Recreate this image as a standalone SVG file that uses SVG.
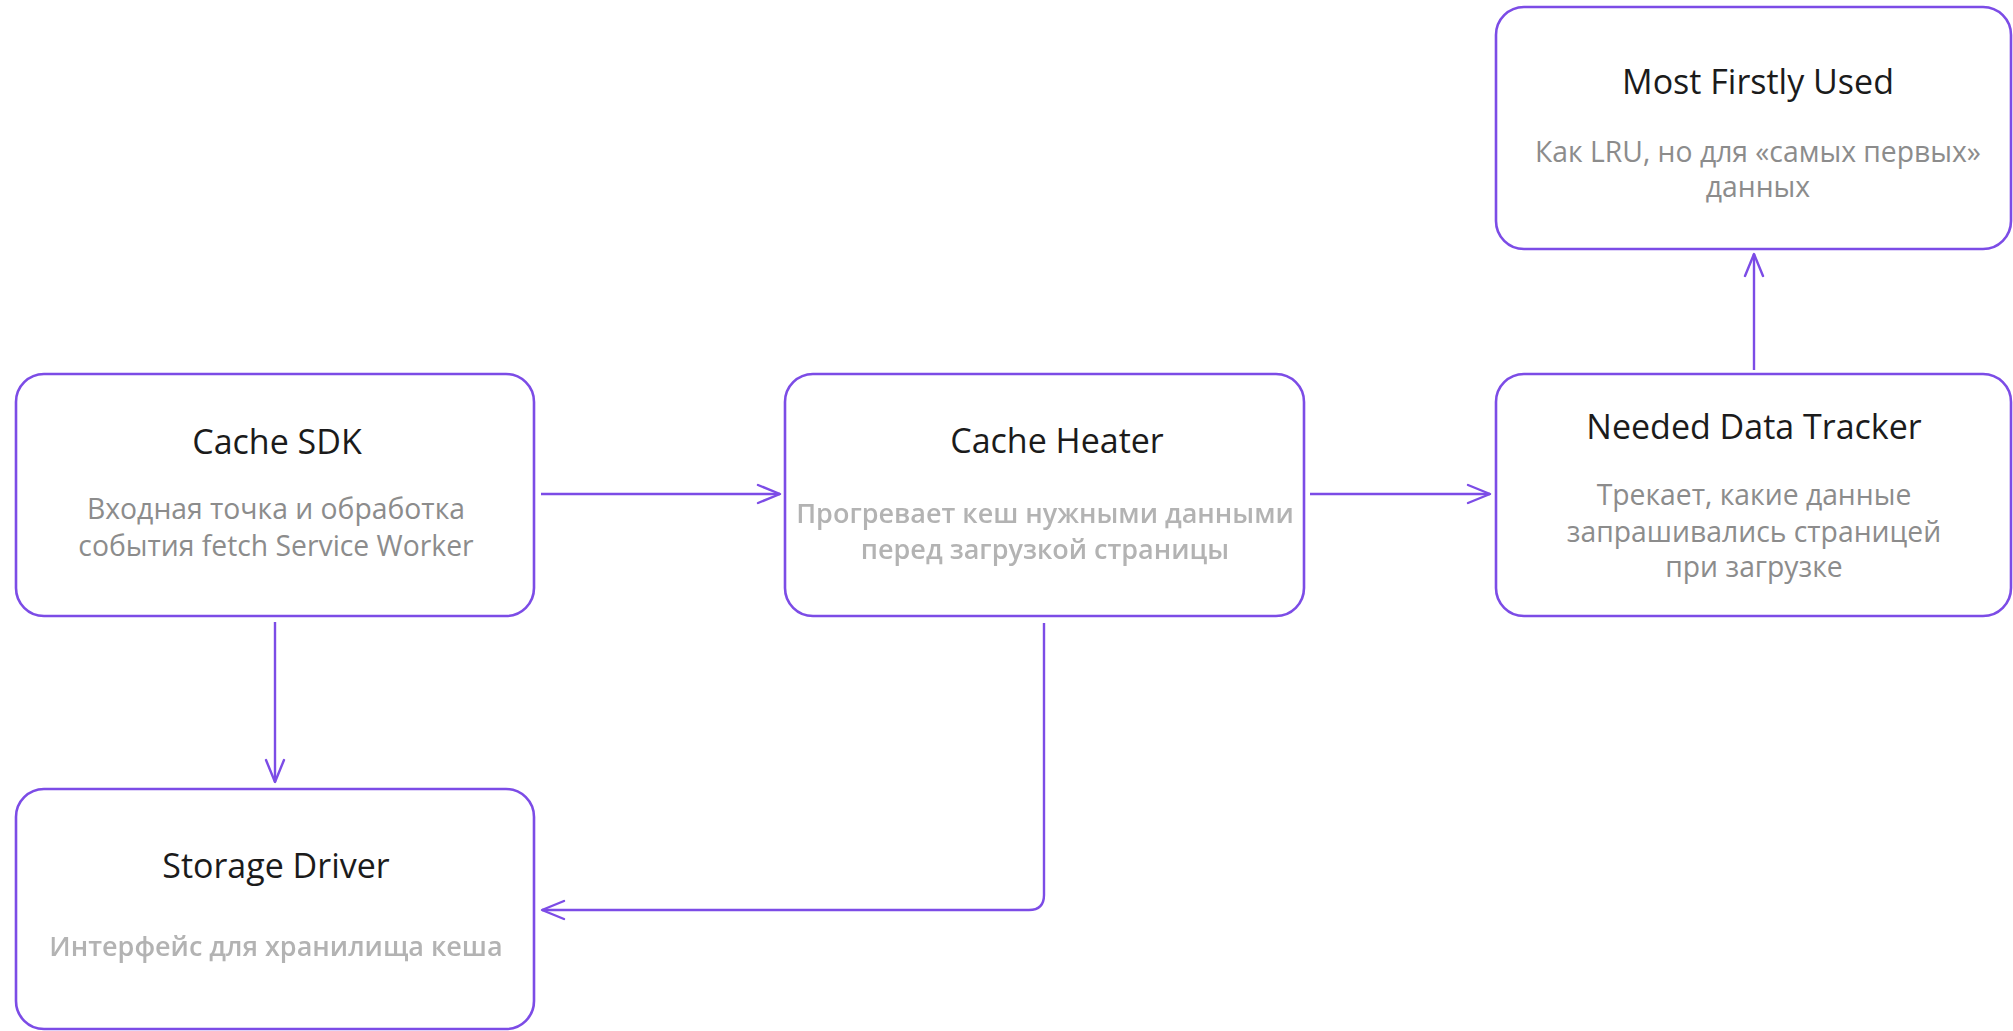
<svg xmlns="http://www.w3.org/2000/svg" width="2013" height="1031" viewBox="0 0 2013 1031">
  <style>
    .box { fill: #ffffff; stroke: #7c4ce6; stroke-width: 2.6; }
    .title { font-family: "Open Sans", "Noto Sans", sans-serif; font-size: 34px; fill: #1b1b1b; text-anchor: middle; }
    .desc { font-family: "Open Sans", "Noto Sans", sans-serif; font-size: 28.3px; fill: #8c8c8c; text-anchor: middle; }
    .desc-soft { font-family: "Open Sans", "Noto Sans", sans-serif; font-size: 27px; font-weight: 600; fill: #b3b3b3; text-anchor: middle; filter: url(#soft); }
    .edge { fill: none; stroke: #7c4ce6; stroke-width: 2.4; marker-end: url(#chevron); }
  </style>
  <defs>
    <marker id="chevron" markerUnits="userSpaceOnUse" viewBox="-26 -12 30 24" refX="0" refY="0" markerWidth="30" markerHeight="24" orient="auto">
      <path d="M -22 -9 L 0 0 L -22 9" fill="none" stroke="#7c4ce6" stroke-width="2.4" stroke-linecap="round" stroke-linejoin="round"/>
    </marker>
    <filter id="soft" x="-5%" y="-20%" width="110%" height="140%">
      <feGaussianBlur stdDeviation="0.7"/>
    </filter>
  </defs>

  <rect width="2013" height="1031" fill="#ffffff"/>

  <!-- connectors -->
  <g id="connectors">
    <path class="edge" d="M 541 494 L 780 494"/>
    <path class="edge" d="M 1310 494 L 1490 494"/>
    <path class="edge" d="M 1754 370 L 1754 254"/>
    <path class="edge" d="M 275 622 L 275 782"/>
    <path class="edge" d="M 1044 623 L 1044 895 Q 1044 910 1029 910 L 542 910"/>
  </g>

  <g id="cache-sdk">
    <rect class="box" x="16" y="374" width="518" height="242" rx="28"/>
    <text class="title" x="277" y="454">Cache SDK</text>
    <text class="desc" x="276" y="519">Входная точка и обработка</text>
    <text class="desc" x="276" y="556">события fetch Service Worker</text>
  </g>

  <g id="cache-heater">
    <rect class="box" x="785" y="374" width="519" height="242" rx="28"/>
    <text class="title" x="1057" y="453">Cache Heater</text>
    <text class="desc-soft" x="1045" y="523">Прогревает кеш нужными данными</text>
    <text class="desc-soft" x="1045" y="559">перед загрузкой страницы</text>
  </g>

  <g id="needed-data-tracker">
    <rect class="box" x="1496" y="374" width="515" height="242" rx="28"/>
    <text class="title" x="1754" y="439">Needed Data Tracker</text>
    <text class="desc" x="1754" y="505">Трекает, какие данные</text>
    <text class="desc" x="1754" y="542">запрашивались страницей</text>
    <text class="desc" x="1754" y="577">при загрузке</text>
  </g>

  <g id="most-firstly-used">
    <rect class="box" x="1496" y="7" width="515" height="242" rx="28"/>
    <text class="title" x="1758" y="94">Most Firstly Used</text>
    <text class="desc" x="1758" y="162">Как LRU, но для «самых первых»</text>
    <text class="desc" x="1758" y="197">данных</text>
  </g>

  <g id="storage-driver">
    <rect class="box" x="16" y="789" width="518" height="240" rx="28"/>
    <text class="title" x="276" y="878">Storage Driver</text>
    <text class="desc-soft" x="276" y="956">Интерфейс для хранилища кеша</text>
  </g>
</svg>
